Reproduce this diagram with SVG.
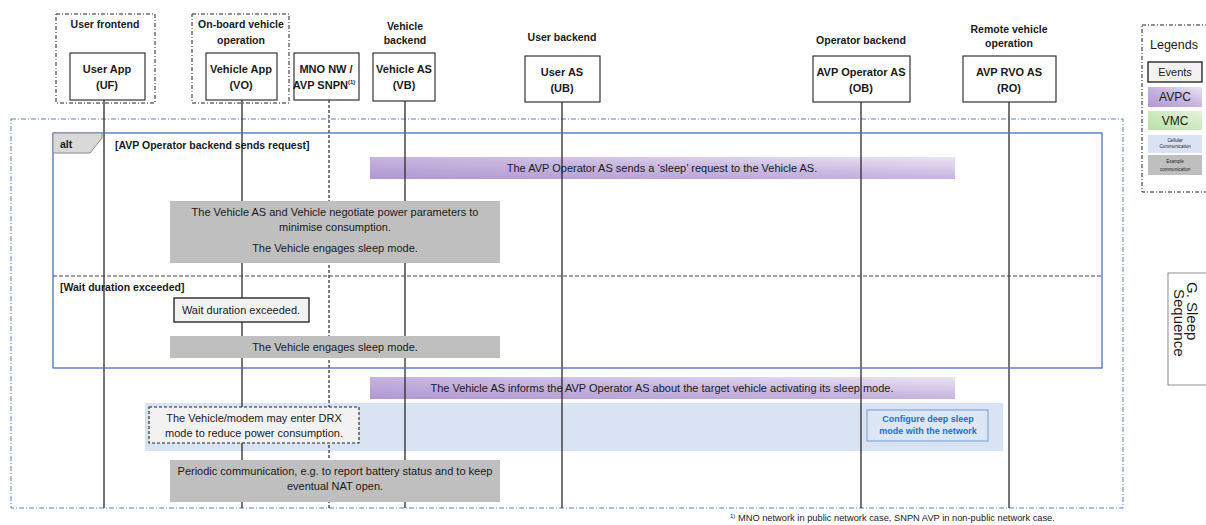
<svg xmlns="http://www.w3.org/2000/svg" width="1206" height="525" viewBox="0 0 1206 525">
  <defs>
    <linearGradient id="gPurple" x1="0" y1="1" x2="1" y2="0">
      <stop offset="0" stop-color="#b097d2"/>
      <stop offset="0.55" stop-color="#c9b8e1"/>
      <stop offset="1" stop-color="#ebe5f3"/>
    </linearGradient>
    <linearGradient id="gGreen" x1="0" y1="1" x2="1" y2="0">
      <stop offset="0" stop-color="#b9e0a6"/>
      <stop offset="1" stop-color="#e4f2dc"/>
    </linearGradient>
    <style>
      text { font-family: "Liberation Sans", Arial, sans-serif; fill: #1a1a1a; }
      .hdr { font-size: 10.5px; font-weight: bold; text-anchor: middle; }
      .name { font-size: 11px; font-weight: bold; text-anchor: middle; }
      .lbl { font-size: 11px; text-anchor: middle; }
      .tiny { font-size: 9px; text-anchor: middle; }
      .bold { font-weight: bold; }
      .box { fill: #ffffff; stroke: #333333; stroke-width: 1.2; }
      .group { fill: none; stroke: #222222; stroke-width: 1; stroke-dasharray: 4 2 1 2; }
      .life { stroke: #2a2a2a; stroke-width: 1.3; fill: none; }
      .life-dash { stroke: #2a2a2a; stroke-width: 1.2; stroke-dasharray: 3 2; fill: none; }
      .frame { fill: none; stroke: #5b80c8; stroke-width: 1; stroke-dasharray: 5 2 1 2; }
      .alt { fill: none; stroke: #4a70b8; stroke-width: 1.3; }
      .gray { fill: #bfbfbf; }
      .purple { fill: url(#gPurple); }
      .event { fill: #f2f2f2; stroke: #2a2a2a; stroke-width: 1.4; }
      .net { font-size: 9px; font-weight: bold; text-anchor: middle; fill: #1f6fc0; }
      .tab { font-size: 15px; }
    </style>
  </defs>

  <rect width="1206" height="525" fill="#ffffff"/>

  <!-- outer sequence frame -->
  <rect class="frame" x="11" y="119" width="1112" height="389"/>

  <!-- participants -->
  <g id="uf">
    <rect class="group" x="56" y="14" width="99" height="89"/>
    <text class="hdr" x="105" y="24" dominant-baseline="central">User frontend</text>
    <rect class="box" x="70" y="53" width="75" height="47"/>
    <text class="name" x="107" y="69" dominant-baseline="central">User App</text>
    <text class="name" x="107" y="85" dominant-baseline="central">(UF)</text>
  </g>
  <g id="vo">
    <rect class="group" x="192" y="14" width="97" height="89"/>
    <text class="hdr" x="241" y="24" dominant-baseline="central">On-board vehicle</text>
    <text class="hdr" x="241" y="40" dominant-baseline="central">operation</text>
    <rect class="box" x="206" y="53" width="71" height="47"/>
    <text class="name" x="241" y="69" dominant-baseline="central">Vehicle App</text>
    <text class="name" x="241" y="85" dominant-baseline="central">(VO)</text>
  </g>
  <g id="mno">
    <rect class="box" x="294" y="53" width="65" height="47"/>
    <text class="name" x="326" y="69" dominant-baseline="central">MNO NW /</text>
    <text class="name" x="324" y="85" dominant-baseline="central">AVP SNPN<tspan font-size="6" dy="-3">(1)</tspan></text>
  </g>
  <g id="vb">
    <text class="hdr" x="405" y="26" dominant-baseline="central">Vehicle</text>
    <text class="hdr" x="405" y="40" dominant-baseline="central">backend</text>
    <rect class="box" x="373" y="53" width="62" height="48"/>
    <text class="name" x="404" y="69" dominant-baseline="central">Vehicle AS</text>
    <text class="name" x="404" y="85" dominant-baseline="central">(VB)</text>
  </g>
  <g id="ub">
    <text class="hdr" x="562" y="37" dominant-baseline="central">User backend</text>
    <rect class="box" x="525" y="56" width="75" height="46"/>
    <text class="name" x="562" y="72" dominant-baseline="central">User AS</text>
    <text class="name" x="562" y="88" dominant-baseline="central">(UB)</text>
  </g>
  <g id="ob">
    <text class="hdr" x="861" y="40" dominant-baseline="central">Operator backend</text>
    <rect class="box" x="813" y="56" width="97" height="46"/>
    <text class="name" x="861" y="72" dominant-baseline="central">AVP Operator AS</text>
    <text class="name" x="861" y="88" dominant-baseline="central">(OB)</text>
  </g>
  <g id="ro">
    <text class="hdr" x="1009" y="29" dominant-baseline="central">Remote vehicle</text>
    <text class="hdr" x="1009" y="43" dominant-baseline="central">operation</text>
    <rect class="box" x="963" y="56" width="93" height="46"/>
    <text class="name" x="1009" y="72" dominant-baseline="central">AVP RVO AS</text>
    <text class="name" x="1009" y="88" dominant-baseline="central">(RO)</text>
  </g>

  <!-- backgrounds drawn under the lifelines -->
  <g id="sleep-request">
    <rect class="purple" x="370" y="157" width="585" height="22"/>
    <text class="lbl" x="662" y="168" dominant-baseline="central">The AVP Operator AS sends a ‘sleep’ request to the Vehicle AS.</text>
  </g>
  <g id="sleep-inform">
    <rect class="purple" x="370" y="377" width="585" height="22"/>
    <text class="lbl" x="662" y="388" dominant-baseline="central">The Vehicle AS informs the AVP Operator AS about the target vehicle activating its sleep mode.</text>
  </g>
  <g id="cellular-band">
    <rect x="145" y="403" width="858" height="48" fill="#dae3f3"/>
  </g>

  <!-- lifelines -->
  <g id="connectors">
    <line class="life" x1="104" y1="100" x2="104" y2="508"/>
    <line class="life" x1="242" y1="100" x2="242" y2="508"/>
    <line class="life-dash" x1="329" y1="100" x2="329" y2="508"/>
    <line class="life" x1="405" y1="101" x2="405" y2="508"/>
    <line class="life" x1="562" y1="102" x2="562" y2="508"/>
    <line class="life" x1="861" y1="102" x2="861" y2="508"/>
    <line class="life" x1="1009" y1="102" x2="1009" y2="508"/>
  </g>

  <!-- alt fragment -->
  <g id="alt">
    <rect class="alt" x="53" y="133" width="1049" height="235"/>
    <path d="M53 133 H102 V138 L90 153 H53 Z" fill="#d9d9d9" stroke="#8a8a8a" stroke-width="1"/>
    <text class="bold" x="60" y="144" font-size="10.5" dominant-baseline="central">alt</text>
    <text class="bold" x="115" y="145" font-size="10.5" dominant-baseline="central">[AVP Operator backend sends request]</text>
    <line x1="53" y1="276" x2="1102" y2="276" stroke="#444444" stroke-width="1" stroke-dasharray="4 2"/>
    <text class="bold" x="60" y="287" font-size="10.5" dominant-baseline="central">[Wait duration exceeded]</text>
  </g>

  <!-- steps -->
  <g id="negotiate">
    <rect class="gray" x="170" y="201" width="330" height="62"/>
    <text class="lbl" x="335" y="212" dominant-baseline="central">The Vehicle AS and Vehicle negotiate power parameters to</text>
    <text class="lbl" x="335" y="227" dominant-baseline="central">minimise consumption.</text>
    <text class="lbl" x="335" y="248" dominant-baseline="central">The Vehicle engages sleep mode.</text>
  </g>
  <g id="wait-exceeded">
    <rect class="event" x="174" y="298" width="135" height="24"/>
    <text class="lbl" x="241" y="310" dominant-baseline="central">Wait duration exceeded.</text>
  </g>
  <g id="engage-sleep">
    <rect class="gray" x="170" y="336" width="330" height="22"/>
    <text class="lbl" x="335" y="347" dominant-baseline="central">The Vehicle engages sleep mode.</text>
  </g>
  <g id="drx">
    <rect x="149" y="407" width="210" height="36" fill="#f2f2f2" stroke="#222222" stroke-width="1.1" stroke-dasharray="3 2"/>
    <text class="lbl" x="254" y="418" dominant-baseline="central">The Vehicle/modem may enter DRX</text>
    <text class="lbl" x="254" y="433" dominant-baseline="central">mode to reduce power consumption.</text>
  </g>
  <g id="deep-sleep">
    <rect x="867" y="410" width="121" height="31" fill="#dde6f4" stroke="#6f9fd8" stroke-width="1"/>
    <text class="net" x="928" y="419" dominant-baseline="central" style="fill:#1f6fc0">Configure deep sleep</text>
    <text class="net" x="928" y="431" dominant-baseline="central" style="fill:#1f6fc0">mode with the network</text>
  </g>
  <g id="periodic">
    <rect class="gray" x="170" y="460" width="330" height="42"/>
    <text class="lbl" x="335" y="471" dominant-baseline="central">Periodic communication, e.g. to report battery status and to keep</text>
    <text class="lbl" x="335" y="486" dominant-baseline="central">eventual NAT open.</text>
  </g>

  <!-- legend -->
  <g id="legend">
    <rect x="1142" y="25" width="80" height="167" fill="none" stroke="#222222" stroke-width="1" stroke-dasharray="4 2 1 2"/>
    <text x="1150" y="45" font-size="12.5" dominant-baseline="central">Legends</text>
    <rect class="event" x="1148" y="62" width="54" height="20"/>
    <text class="lbl" x="1175" y="72" dominant-baseline="central">Events</text>
    <rect class="purple" x="1148" y="87" width="54" height="20"/>
    <text class="lbl" x="1175" y="97" dominant-baseline="central" style="font-size:12px">AVPC</text>
    <rect x="1148" y="111" width="54" height="19" fill="url(#gGreen)"/>
    <text class="lbl" x="1175" y="121" dominant-baseline="central" style="font-size:12px">VMC</text>
    <rect x="1148" y="135" width="54" height="18" fill="#dae3f3"/>
    <text class="tiny" transform="translate(1175 140.5) scale(0.5)" dominant-baseline="central">Cellular</text>
    <text class="tiny" transform="translate(1175 146.5) scale(0.5)" dominant-baseline="central">Communication</text>
    <rect class="gray" x="1148" y="155" width="54" height="20"/>
    <text class="tiny" transform="translate(1175 161) scale(0.5)" dominant-baseline="central">Example</text>
    <text class="tiny" transform="translate(1175 169) scale(0.5)" dominant-baseline="central">communication</text>
  </g>

  <!-- section tab -->
  <g id="section-tab">
    <rect x="1168" y="273" width="50" height="112" fill="#ffffff" stroke="#8c8c8c" stroke-width="1"/>
    <text class="tab" transform="translate(1192 282) rotate(90)" dominant-baseline="central">G. Sleep</text>
    <text class="tab" transform="translate(1179 289) rotate(90)" dominant-baseline="central">Sequence</text>
  </g>

  <!-- footnote -->
  <text x="730" y="521" font-size="9.3"><tspan font-size="6" dy="-3">1)</tspan><tspan dy="3"> MNO network in public network case, SNPN AVP in non-public network case.</tspan></text>
</svg>
